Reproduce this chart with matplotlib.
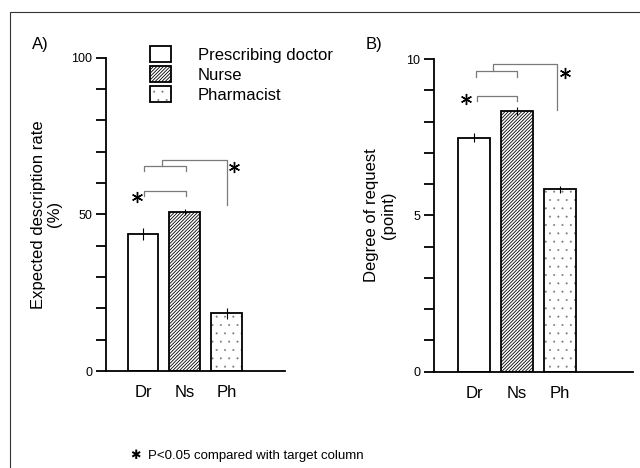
import matplotlib
matplotlib.use("Agg")
import matplotlib.pyplot as plt
from matplotlib.patches import Rectangle
from matplotlib.legend_handler import HandlerTuple
import numpy as np

plt.rcParams['font.family'] = ['Liberation Sans', 'DejaVu Sans']

# data
groups = ['Dr', 'Ns', 'Ph']
legend_names = ['Prescribing doctor', 'Nurse', 'Pharmacist']
rate_mean = [43.8, 50.7, 18.4]      # A) expected description rate (%)
rate_err = [1.9, 1.0, 1.7]
request_mean = [7.48, 8.33, 5.83]   # B) degree of request (point)
request_err = [0.14, 0.12, 0.12]

HATCH_LW_LINES = 0.6
HATCH_LW_DOTS = 0.2

fig = plt.figure(figsize=(6.4, 4.68), dpi=100)

# outer frame of the original figure
fig.patches.append(Rectangle((10 / 640, -0.1), 1.2, 1.1 - 12 / 468,
                             transform=fig.transFigure, fill=False,
                             edgecolor='#333333', lw=0.8))

axA = fig.add_axes([106 / 640, 1 - 371 / 468, 179 / 640, 313.3 / 468])
axB = fig.add_axes([434 / 640, 1 - 371.7 / 468, 199 / 640, 312.7 / 468])


def set_hatch_lw(patch, lw):
    if hasattr(patch, 'set_hatch_linewidth'):
        patch.set_hatch_linewidth(lw)
    else:
        patch._hatch_linewidth = lw


def draw_bars(ax, means, errs):
    x = np.arange(len(means))
    w = 0.74
    b_dr = ax.bar(x[0], means[0], w, color='white', edgecolor='black', lw=1.3, zorder=2)
    plt.rcParams['hatch.linewidth'] = HATCH_LW_LINES
    b_ns = ax.bar(x[1], means[1], w, color='white', edgecolor='black', lw=1.3,
                  hatch='//////////', zorder=2)
    # dotted bar: grey dots first, black outline on top
    plt.rcParams['hatch.color'] = '#777777'
    plt.rcParams['hatch.linewidth'] = HATCH_LW_DOTS
    b_ph_fill = ax.bar(x[2], means[2], w, color='white', lw=0, hatch='..', zorder=2)
    b_ph_edge = ax.bar(x[2], means[2], w, fill=False, edgecolor='black', lw=1.3, zorder=3)
    ax.errorbar(x, means, yerr=errs, fmt='none', ecolor='black', elinewidth=0.8,
                capsize=0, zorder=4)
    return [b_dr[0], b_ns[0], (b_ph_fill[0], b_ph_edge[0])]


def style_axis(ax, top, step, labelstep, xlim, ylabel, labelpad):
    ax.set_xlim(*xlim)
    ax.set_ylim(0, top)
    ax.spines['top'].set_visible(False)
    ax.spines['right'].set_visible(False)
    ax.spines['left'].set_linewidth(1.3)
    ax.spines['bottom'].set_linewidth(1.3)
    ticks = np.arange(0, top + step / 2, step)
    ax.set_yticks(ticks)
    ax.set_yticklabels([f'{t:g}' if t % labelstep == 0 else '' for t in ticks])
    ax.tick_params(axis='y', direction='out', length=7.5, width=1.3, labelsize=9, pad=2.5)
    ax.set_xticks(range(len(groups)))
    ax.set_xticklabels(groups, fontsize=12)
    ax.tick_params(axis='x', length=0, pad=10)
    ax.set_ylabel(ylabel, fontsize=12, labelpad=labelpad, linespacing=1.1)


def bracket(ax, pair_y, pair_leg, join_x, join_top, far_x, far_bottom, x0, x1):
    c = '#7a7a7a'
    ax.plot([x0, x0, x1, x1], [pair_leg, pair_y, pair_y, pair_leg], color=c, lw=0.9, clip_on=False)
    ax.plot([join_x, join_x, far_x, far_x], [pair_y, join_top, join_top, far_bottom],
            color=c, lw=0.9, clip_on=False)


def inner(ax, y, leg, x0, x1):
    ax.plot([x0, x0, x1, x1], [leg, y, y, leg], color='#7a7a7a', lw=0.9, clip_on=False)


def star(ax, x, y):
    ax.plot([x], [y], marker=(6, 2, 0), ms=8, mew=1.0, color='black', clip_on=False)


handles = draw_bars(axA, rate_mean, rate_err)
draw_bars(axB, request_mean, request_err)

style_axis(axA, 100, 10, 50, (-0.886, 3.40), 'Expected description rate\n(%)', 6.5)
style_axis(axB, 10, 1, 5, (-0.93, 3.70), 'Degree of request\n(point)', 7.5)

# significance brackets, panel A
inner(axA, 57.5, 56.0, 0.02, 1.02)
star(axA, -0.15, 55.4)
bracket(axA, 65.5, 63.7, 0.45, 67.4, 2.0, 53.0, 0.02, 1.02)
star(axA, 2.17, 65.0)

# significance brackets, panel B
inner(axB, 8.82, 8.67, 0.06, 0.99)
star(axB, -0.19, 8.71)
bracket(axB, 9.62, 9.44, 0.45, 9.83, 1.94, 8.37, 0.04, 0.99)
star(axB, 2.12, 9.54)

fig.text(32 / 640, 1 - 45 / 468, 'A)', fontsize=12, va='center', ha='left')
fig.text(366 / 640, 1 - 45 / 468, 'B)', fontsize=12, va='center', ha='left')

leg = axA.legend(handles, legend_names, loc='upper left',
                 bbox_to_anchor=(150 / 640, 1 - 46 / 468), bbox_transform=fig.transFigure,
                 frameon=False, borderpad=0, borderaxespad=0, fontsize=12,
                 handlelength=1.25, handleheight=1.1, handletextpad=1.6, labelspacing=0.2,
                 handler_map={tuple: HandlerTuple(ndivide=1)})
for p in leg.get_patches():
    if p.get_hatch() and '/' in p.get_hatch():
        set_hatch_lw(p, HATCH_LW_LINES)
    elif p.get_hatch():
        set_hatch_lw(p, HATCH_LW_DOTS)

fig.text(135 / 640, 1 - 456 / 468, '\u2731', fontsize=9, va='center', ha='center')
fig.text(148 / 640, 1 - 456 / 468, 'P<0.05 compared with target column',
         fontsize=9.5, va='center', ha='left')

fig.savefig('out.png', dpi=100)
